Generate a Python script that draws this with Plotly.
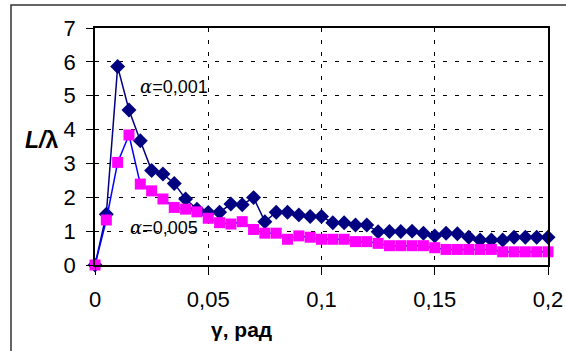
import plotly.graph_objects as go

gamma = [round(i * 0.005, 3) for i in range(41)]
L_a001 = [0, 1.5, 5.86, 4.58, 3.67, 2.79, 2.69, 2.41, 1.95, 1.65, 1.55,
          1.56, 1.80, 1.78, 1.99, 1.28, 1.56, 1.56, 1.48, 1.43, 1.43,
          1.25, 1.25, 1.18, 1.18, 0.98, 0.99, 0.99, 1.0, 0.94, 0.86,
          0.94, 0.92, 0.82, 0.74, 0.74, 0.74, 0.82, 0.82, 0.82, 0.82]
L_a005 = [0, 1.33, 3.03, 3.84, 2.39, 2.19, 1.95, 1.70, 1.65, 1.57, 1.38,
          1.25, 1.21, 1.28, 1.05, 0.94, 0.94, 0.76, 0.86, 0.82, 0.76,
          0.76, 0.76, 0.69, 0.69, 0.64, 0.57, 0.57, 0.57, 0.57, 0.51,
          0.46, 0.46, 0.46, 0.46, 0.46, 0.39, 0.39, 0.39, 0.39, 0.39]
x_ticks = [0, 0.05, 0.1, 0.15, 0.2]
x_tick_text = ["0", "0,05", "0,1", "0,15", "0,2"]
y_ticks = [0, 1, 2, 3, 4, 5, 6, 7]

FONT = "Arial, Liberation Sans, sans-serif"

fig = go.Figure()
fig.add_trace(go.Scatter(
    x=gamma, y=L_a001, mode="lines+markers",
    line=dict(color="#000080", width=1.5),
    marker=dict(symbol="diamond", size=11.5, color="#000080"),
    showlegend=False, cliponaxis=False))
fig.add_trace(go.Scatter(
    x=gamma, y=L_a005, mode="lines+markers",
    line=dict(color="#0000FF", width=1.5),
    marker=dict(symbol="square", size=11, color="#FF00FF"),
    showlegend=False, cliponaxis=False))

fig.update_layout(
    width=566, height=351,
    margin=dict(l=95, r=18, t=28, b=86, autoexpand=False),
    paper_bgcolor="white", plot_bgcolor="white",
    font=dict(family=FONT, size=22, color="black"),
    xaxis=dict(range=[0, 0.2], tickvals=x_ticks, ticktext=x_tick_text,
               showline=True, linecolor="black", linewidth=1.5, mirror=True,
               ticks="outside", ticklen=8, tickcolor="black",
               showgrid=True, gridcolor="black", gridwidth=1, griddash="4px,8px",
               zeroline=False, ticklabelstandoff=6, automargin=False,
               tickfont=dict(size=22)),
    yaxis=dict(range=[0, 7], tickvals=y_ticks,
               showline=True, linecolor="black", linewidth=1.5, mirror=True,
               ticks="outside", ticklen=7, tickcolor="black",
               showgrid=True, gridcolor="black", gridwidth=1, griddash="4px,8px",
               zeroline=False, ticklabelstandoff=6, automargin=False,
               tickfont=dict(size=22)),
    shapes=[dict(type="rect", xref="paper", yref="paper",
                 x0=(11 - 95) / 453, x1=(580 - 95) / 453,
                 y0=(265 - 360) / 237, y1=(265 - 5) / 237,
                 line=dict(color="#333333", width=1.5), layer="below")],
    annotations=[
        dict(x=0.019, y=5.26, xref="x", yref="y", xanchor="left", yanchor="middle",
             text="<i><span style='font-family:DejaVu Serif'>α</span></i>=0,001",
             showarrow=False, font=dict(size=18)),
        dict(x=0.0146, y=1.12, xref="x", yref="y", xanchor="left", yanchor="middle",
             text="<i><span style='font-family:DejaVu Serif'>α</span></i>=0,005",
             showarrow=False, font=dict(size=18)),
        dict(x=(41 - 95) / 453, y=(265 - 140) / 237, xref="paper", yref="paper",
             xanchor="center", yanchor="middle",
             text="<b><i>L/</i>λ</b>", showarrow=False, font=dict(size=23)),
        dict(x=(241 - 95) / 453, y=(265 - 329) / 237, xref="paper", yref="paper",
             xanchor="center", yanchor="middle",
             text="<b>γ, рад</b>", showarrow=False, font=dict(size=21)),
    ],
)

fig.write_html("out.html", config={"displayModeBar": False},
               post_script="document.body.style.margin='0';")
